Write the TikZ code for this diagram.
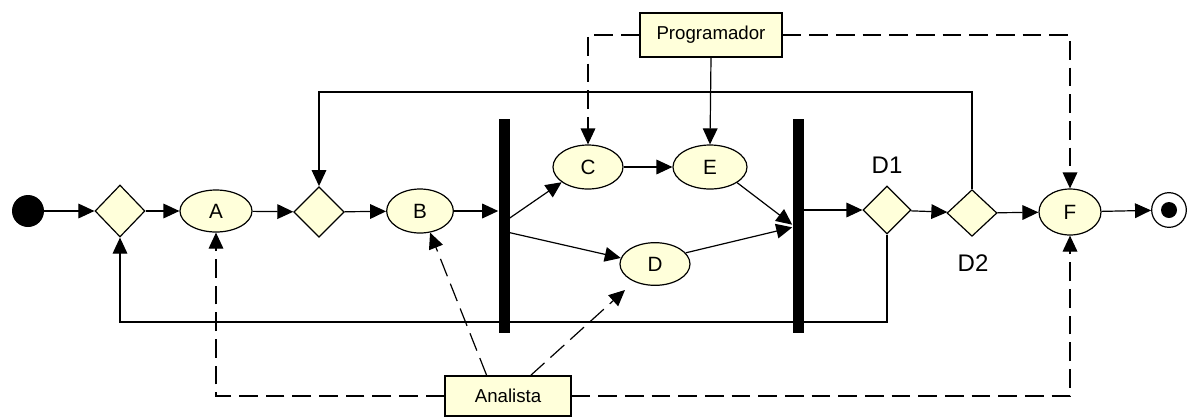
\documentclass[tikz,border=0pt]{standalone}
\usepackage{fontspec}
\setmainfont{Liberation Sans}
\usetikzlibrary{shapes.geometric,arrows.meta,calc}
\definecolor{cream}{RGB}{255,255,218}
\tikzset{
  act/.style={ellipse,draw,fill=cream,line width=0.9pt,inner sep=0pt,font=\fontsize{15.5}{17}\selectfont},
  dec/.style={diamond,draw,fill=cream,line width=0.9pt,inner sep=0pt,aspect=1},
  bar/.style={rectangle,fill=black,inner sep=0pt,minimum width=8.25pt,minimum height=160pt},
  role/.style={rectangle,draw,fill=cream,line width=0.9pt,inner sep=0pt,font=\fontsize{14}{16}\selectfont},
  arr/.style={line width=0.9pt,-{Triangle[length=12pt,width=11pt]}},
  dashline/.style={dash pattern=on 14pt off 6pt},
  lbl/.style={font=\fontsize{18}{20}\selectfont,inner sep=0pt}
}
\begin{document}
\begin{tikzpicture}[x=0.75pt,y=-0.75pt]
\useasboundingbox (0,0) rectangle (1188,419);
% nodes
\node[circle,fill=black,minimum size=24pt,inner sep=0pt] (start) at (28,211) {};
\node[dec,minimum width=37.5pt,minimum height=39pt] (dia1) at (120,211) {};
\node[act,minimum width=54pt,minimum height=31.5pt] (a) at (216,211) {A};
\node[dec,minimum width=38pt,minimum height=38pt] (dia2) at (319,212) {};
\node[act,minimum width=50pt,minimum height=33pt] (b) at (420,211) {B};
\node[bar] (bar1) at (504,226) {};
\node[act,minimum width=52.5pt,minimum height=33pt] (c) at (588,167) {C};
\node[act,minimum width=55.5pt,minimum height=33pt] (e) at (710,167) {E};
\node[act,minimum width=52.5pt,minimum height=32pt] (d) at (655,264) {D};
\node[bar] (bar2) at (798,226) {};
\node[dec,minimum width=36pt,minimum height=36pt] (d1) at (887,210) {};
\node[lbl] (d1l) at (887,165) {D1};
\node[dec,minimum width=37.5pt,minimum height=35pt] (d2) at (972,213) {};
\node[lbl] (d2l) at (973,263) {D2};
\node[act,minimum width=46.5pt,minimum height=34.5pt] (f) at (1070,212) {F};
\node[circle,draw,line width=0.9pt,minimum size=26pt,inner sep=0pt] (end) at (1169,210) {};
\node[circle,fill=black,minimum size=12pt,inner sep=0pt] (endin) at (1169,210) {};
\node[role,minimum width=106.5pt,minimum height=33pt] (prog) at (711,35) {Programador};
\node[role,minimum width=94.5pt,minimum height=30pt] (ana) at (508,396) {Analista};
\coordinate (loopy) at (0,322);
\coordinate (topy) at (0,92);
\coordinate (dtip) at (625,290);
% main flow
\draw[arr] (start) -- (dia1);
\draw[arr] (dia1) -- (a);
\draw[arr] (a) -- (dia2);
\draw[arr] (dia2) -- (b);
\draw[arr] (b) -- (b -| bar1.west);
\draw[arr] ([yshift=6pt]bar1.east) -- (c.-150);
\draw[arr] ([yshift=-5pt]bar1.east) -- (d.170);
\draw[arr] (c) -- (e);
\draw[arr] (e.-30) -- ([yshift=1pt]bar2.west);
\draw[arr] (d.20) -- ([yshift=-1pt]bar2.west);
\draw[arr] (bar2.east |- d1) -- (d1);
\draw[arr] (d1) -- (d2);
\draw[arr] (d2) -- (f);
\draw[arr] (f) -- (end);
% loops
\draw[arr] (d1.south) -- (d1.south |- loopy) -| (dia1.south);
\draw[arr] (d2.north) -- (d2.north |- topy) -| (dia2.north);
% roles
\draw[arr] (prog.south) -- (e.north);
\draw[arr,dashline] (prog.west) -| (c.north);
\draw[arr,dashline] (prog.east) -| (f.north);
\draw[arr,dashline] (ana.west) -| (a.south);
\draw[arr,dashline] (ana.east) -| (f.south);
\draw[arr,dashline] ([xshift=-16pt]ana.north) -- (b.-65);
\draw[arr,dashline] ([xshift=17pt]ana.north) -- (dtip);
\end{tikzpicture}
\end{document}
